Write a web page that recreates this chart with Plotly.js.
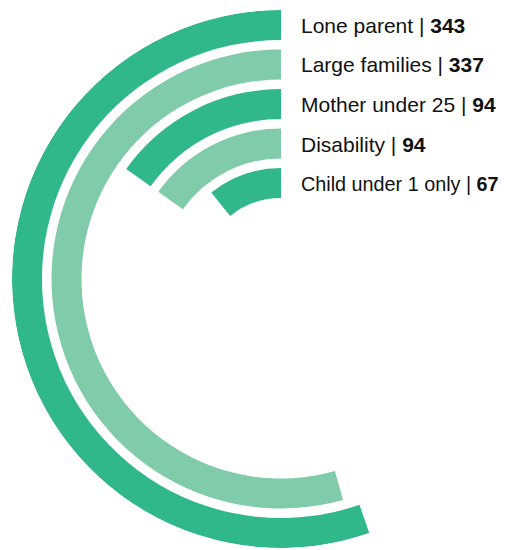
<!DOCTYPE html>
<html>
<head>
<meta charset="utf-8">
<script src="https://cdn.plot.ly/plotly-3.0.1.min.js"></script>
<style>html,body{margin:0;padding:0;background:#fff;}#chart{width:509px;height:550px;}</style>
</head>
<body>
<div id="chart"></div>
<script>
// ---- data ----
const categories = ['Lone parent', 'Large families', 'Mother under 25', 'Disability', 'Child under 1 only'];
const values = [343, 337, 94, 94, 67];
const scaleMax = 620; // value that would fill a full circle

// ---- styling / layout constants ----
const W = 509, H = 550;
const cx = 281, cy = 279, R = 269;   // centre and outer radius in px
const pitch = 39.5, thick = 30;
const colors = ['#30b88a', '#80cba9', '#30b88a', '#80cba9', '#30b88a'];
const labelSizes = [21, 21, 21, 21, 19.8];

const deg = values.map(v => v / scaleMax * 360);
const outer = values.map((v, i) => R - pitch * i);

const trace = {
  type: 'barpolar',
  theta: deg.map(d => d / 2),
  width: deg,
  base: outer.map(o => o - thick),
  r: values.map(() => thick),
  marker: {color: colors, line: {width: 0}},
  hoverinfo: 'skip',
  showlegend: false
};

const sector = [90, 290];
const bboxW = 1 + Math.cos(70 * Math.PI / 180);
const annotations = categories.map((c, i) => ({
  xref: 'paper', yref: 'paper',
  x: 299 / W, y: 1 - (cy - outer[i] + thick / 2 + 0.5) / H,
  xanchor: 'left', yanchor: 'middle',
  text: c + ' | <b>' + values[i] + '</b>',
  showarrow: false,
  font: {family: 'Liberation Sans, Arial, sans-serif', size: labelSizes[i], color: '#111111'}
}));

const layout = {
  width: W, height: H,
  margin: {l: 0, r: 0, t: 0, b: 0},
  paper_bgcolor: '#ffffff',
  polar: {
    domain: {x: [(cx - R) / W, (cx - R + bboxW * R) / W], y: [(H - cy - R) / H, (H - cy + R) / H]},
    sector: sector,
    hole: 0,
    bgcolor: 'rgba(0,0,0,0)',
    bargap: 0,
    radialaxis: {range: [0, R], visible: false, showgrid: false, showline: false},
    angularaxis: {rotation: 90, direction: 'counterclockwise', visible: false, showgrid: false, showline: false}
  },
  annotations: annotations
};

Plotly.newPlot('chart', [trace], layout, {displayModeBar: false, staticPlot: true});
</script>
</body>
</html>
